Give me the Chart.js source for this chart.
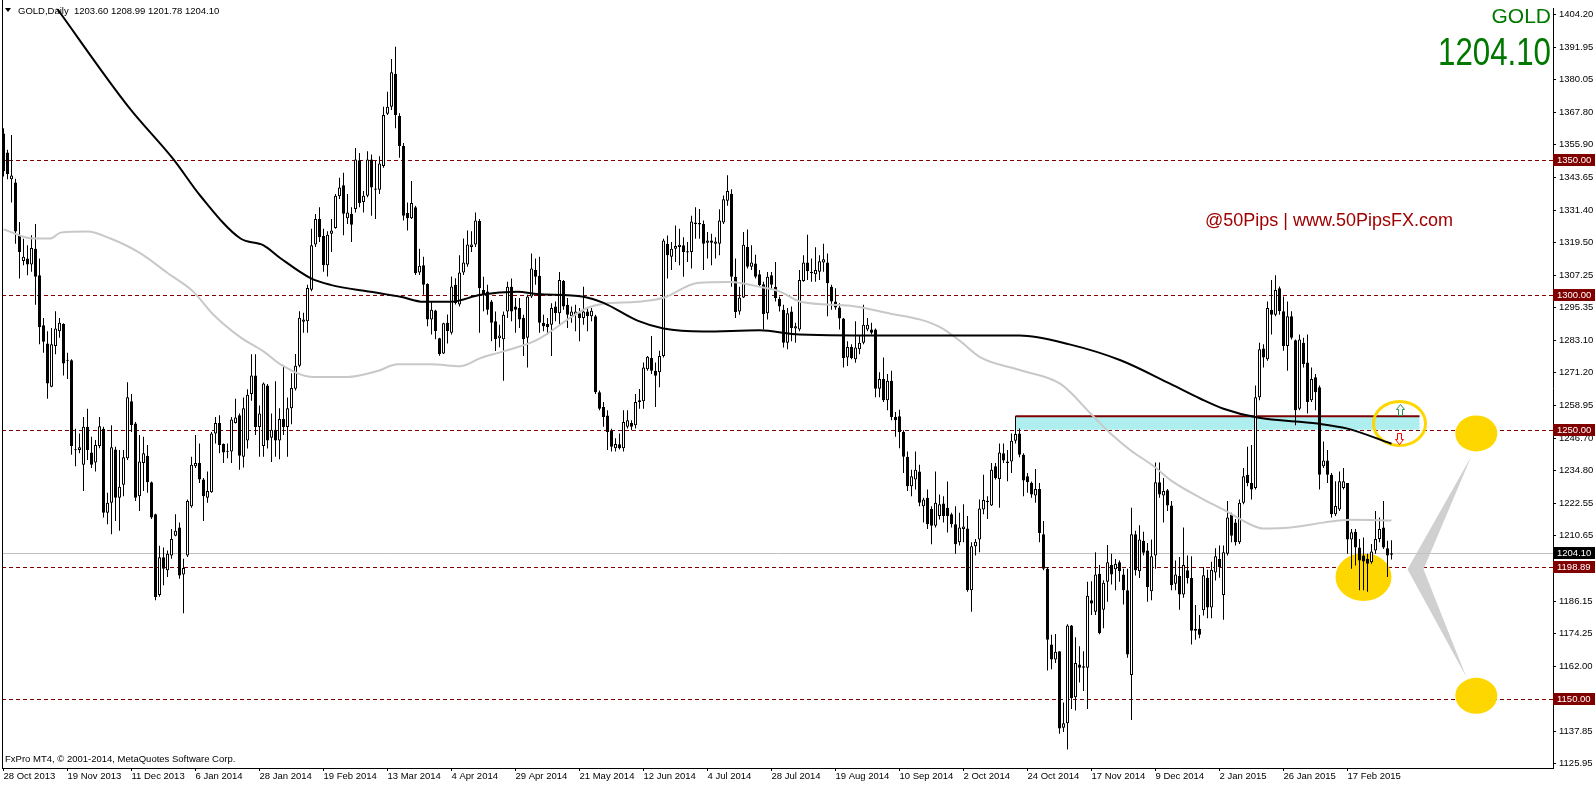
<!DOCTYPE html>
<html>
<head>
<meta charset="utf-8">
<script src="https://cdn.jsdelivr.net/npm/chart.js@4.4.1/dist/chart.umd.min.js"></script>
<style>
  html, body { margin: 0; padding: 0; background: #fff; overflow: hidden; }
  canvas { display: block; }
</style>
</head>
<body>
<canvas id="graficoGold" width="1596" height="786" style="width:1596px;height:786px"></canvas>
<script>
// GOLD daily candles, 28 Oct 2013 .. early Mar 2015 (bar index 0..347)
const opens = [
  1360, 1353, 1343, 1341.8, 1322.2, 1312.7, 1313.6, 1311.4, 1317.2, 1307.4,
  1288.8, 1282.0, 1266.0, 1281.1, 1286.6, 1289.3, 1275.8, 1275.8, 1242.6, 1242.5,
  1237.0, 1251.1, 1241.5, 1237.8, 1244.0, 1250.4, 1219.2, 1222.9, 1242.7, 1224.7,
  1229.6, 1239.4, 1260.6, 1252.3, 1225.3, 1237.6, 1240.3, 1230.5, 1218.6, 1188.6,
  1202.6, 1197.8, 1203.3, 1210.6, 1213.7, 1196.2, 1203.3, 1221.6, 1236.4, 1237.6,
  1231.5, 1224.7, 1226.8, 1248.6, 1252.5, 1244.7, 1241.9, 1241.9, 1252.5, 1255.4,
  1240, 1246, 1263.3, 1270.1, 1251, 1244, 1266.4, 1247, 1250, 1246,
  1254, 1251, 1258, 1265.2, 1273.8, 1290.1, 1290.3, 1302.0, 1318.8, 1328.3,
  1321.9, 1311.1, 1322.8, 1324.9, 1336.7, 1340.8, 1328.5, 1330.2, 1332.0, 1350.1,
  1334.6, 1336.9, 1350.4, 1339.6, 1339.1, 1347.9, 1367.3, 1369.9, 1382.2, 1366.5,
  1355.4, 1330.5, 1328.5, 1332.6, 1308.4, 1311.1, 1304.1, 1290.9, 1294.3, 1284.0,
  1278.3, 1289.7, 1286.0, 1303.8, 1296.5, 1308.4, 1311.4, 1317.9, 1318.8, 1327.5,
  1301.9, 1301.3, 1297.6, 1290.3, 1284.0, 1283.6, 1293.9, 1303.1, 1295.8, 1295.2,
  1291.5, 1284.2, 1299.5, 1309.3, 1307.2, 1289.7, 1289.3, 1289.0, 1295.8, 1293.3,
  1305.2, 1296.4, 1292.1, 1292.7, 1293.3, 1291.5, 1293.9, 1292.1, 1292.1, 1263.9,
  1258.4, 1255.3, 1249.8, 1243.1, 1244.6, 1243.1, 1251.1, 1252.5, 1251.7, 1260.3,
  1260.6, 1272.5, 1276.6, 1271.9, 1271.3, 1277.4, 1319.1, 1314.2, 1317.2, 1317.9,
  1318.5, 1316.3, 1316.0, 1327.0, 1326.2, 1326.4, 1319.4, 1320.3, 1319.1, 1319.1,
  1327.0, 1335.0, 1337.5, 1306.8, 1293.9, 1299.1, 1317.9, 1310.5, 1311.7, 1307.7,
  1304.0, 1293.3, 1307.4, 1303.1, 1298.6, 1294.6, 1282.3, 1293.9, 1287.6, 1287.2,
  1305.2, 1312.1, 1308.7, 1307.7, 1308.7, 1312.1, 1312.1, 1303.1, 1297.6, 1295.4,
  1291.3, 1276.8, 1280.7, 1276.2, 1279.9, 1282.3, 1287.2, 1287.2, 1287.2, 1265.2,
  1268.8, 1260.9, 1268.2, 1254.7, 1255.0, 1249.2, 1240.0, 1229.0, 1231.5, 1234.5,
  1221.6, 1224.7, 1220.6, 1214.3, 1218.0, 1222.6, 1221.0, 1218.6, 1214.9, 1208.2,
  1213.1, 1213.3, 1190.4, 1206.7, 1209.2, 1220.4, 1223.1, 1221.9, 1236.4, 1231.7,
  1241.3, 1238.2, 1238.2, 1245.9, 1248.6, 1240.7, 1232.7, 1230.2, 1225.6, 1228.0,
  1211.2, 1198.4, 1170.2, 1164.7, 1167.7, 1139.3, 1141.0, 1177.3, 1150.6, 1162.8,
  1161.6, 1161.6, 1186.7, 1182.4, 1196.5, 1183.1, 1193.5, 1199.8, 1198.2, 1200.8,
  1196.2, 1190.4, 1158.9, 1211.2, 1197.4, 1208.8, 1205.1, 1190.0, 1203.3, 1230.5,
  1225.6, 1227.5, 1221.9, 1192.8, 1195.7, 1188.8, 1197.8, 1194.9, 1176.1, 1176.1,
  1183, 1195, 1184, 1197, 1202, 1188.6, 1203.9, 1218.6, 1215.5, 1208.2,
  1222.9, 1233.3, 1230.2, 1228.4, 1262.1, 1280.2, 1276.2, 1294.6, 1292.7, 1302.5,
  1294.0, 1281.1, 1292.1, 1283.2, 1257.8, 1282.3, 1275.0, 1260.9, 1269.5, 1265.8,
  1236.4, 1238.6, 1233.3, 1218.6, 1220.4, 1228.4, 1230.2, 1209.2, 1212.1, 1206.3,
  1203.3, 1202.1, 1200.8, 1205.1, 1209.4, 1213.7, 1206.0, 1203.6
];
const highs = [
  1362, 1354, 1359.5, 1343.2, 1327.1, 1320.9, 1318.5, 1322.2, 1326.4, 1313.6,
  1291.5, 1286.6, 1287.8, 1294.0, 1291.5, 1289.5, 1278.6, 1276.2, 1250.4, 1248.6,
  1254.7, 1257.8, 1247.4, 1246.2, 1254.7, 1251.1, 1226.6, 1251.7, 1243.7, 1242.5,
  1242.5, 1267.6, 1263.3, 1252.9, 1248.0, 1247.4, 1244.3, 1230.8, 1218.8, 1206.9,
  1206.3, 1205.1, 1213.1, 1218.6, 1215.5, 1202.1, 1224.1, 1240.0, 1248.0, 1244.9,
  1232.1, 1234.5, 1249.2, 1254.7, 1255.4, 1244.9, 1244.9, 1254.7, 1261.5, 1256.0,
  1262, 1265, 1278.0, 1278.0, 1259, 1267.5, 1267.0, 1256, 1268, 1258,
  1274, 1262, 1271, 1278.1, 1294.0, 1293.4, 1303.8, 1324.6, 1330.1, 1332.6,
  1324.6, 1323.7, 1328.3, 1337.5, 1343.6, 1345.4, 1337.5, 1332.6, 1354.6, 1352.8,
  1338.7, 1353.4, 1352.2, 1349.8, 1351.6, 1369.9, 1375.5, 1387.7, 1392.2, 1367.5,
  1356.5, 1334.4, 1342.4, 1333.2, 1317.2, 1314.2, 1304.4, 1297.7, 1294.6, 1284.2,
  1289.7, 1292.8, 1306.9, 1306.3, 1314.8, 1321.0, 1324.0, 1323.7, 1330.7, 1328.3,
  1306.8, 1303.8, 1298.2, 1293.9, 1289.0, 1293.9, 1305.0, 1306.2, 1298.9, 1298.9,
  1292.7, 1300.1, 1315.4, 1313.6, 1314.2, 1292.7, 1291.5, 1297.0, 1297.6, 1308.6,
  1305.6, 1298.9, 1295.8, 1296.4, 1295.2, 1303.1, 1295.2, 1295.2, 1292.7, 1264.6,
  1260.3, 1257.2, 1250.4, 1246.8, 1248.6, 1257.2, 1257.2, 1253.5, 1263.3, 1265.1,
  1275.0, 1277.4, 1284.8, 1275.0, 1279.3, 1320.9, 1322.1, 1319.7, 1325.8, 1324.6,
  1321.5, 1319.7, 1329.5, 1332.6, 1332.0, 1327.7, 1323.4, 1322.8, 1321.5, 1331.9,
  1337.0, 1344.5, 1339.3, 1313.6, 1303.1, 1323.4, 1324.4, 1318.5, 1315.0, 1309.3,
  1305.0, 1308.6, 1308.6, 1312.3, 1299.5, 1296.4, 1295.2, 1295.8, 1289.7, 1309.3,
  1314.8, 1322.4, 1313.6, 1317.8, 1314.8, 1319.1, 1315.4, 1303.8, 1302.5, 1297.0,
  1291.5, 1282.9, 1281.7, 1290.3, 1284.8, 1296.4, 1291.5, 1289.7, 1287.6, 1271.3,
  1276.8, 1270.7, 1271.9, 1256.6, 1257.4, 1249.8, 1241.9, 1235.1, 1241.9, 1237.0,
  1224.7, 1227.8, 1221.6, 1234.5, 1225.9, 1225.3, 1230.8, 1219.2, 1221.6, 1219.2,
  1222.3, 1218.0, 1208.2, 1209.4, 1224.1, 1233.3, 1225.3, 1237.6, 1237.6, 1244.9,
  1244.9, 1242.5, 1248.6, 1255.0, 1250.5, 1241.3, 1233.9, 1230.8, 1235.4, 1230.2,
  1216.1, 1199.0, 1173.9, 1174.1, 1167.7, 1148.7, 1177.8, 1177.5, 1172.9, 1169.6,
  1167.7, 1193.5, 1193.7, 1204.5, 1199.8, 1194.1, 1207.2, 1203.9, 1202.0, 1201.4,
  1198.4, 1198.4, 1221.0, 1212.5, 1214.5, 1212.1, 1207.9, 1209.2, 1237.8, 1237.8,
  1232.1, 1228.0, 1223.5, 1201.4, 1202.7, 1213.7, 1203.3, 1203.0, 1184.9, 1181.2,
  1199.0, 1198, 1201, 1206, 1207, 1207, 1223.5, 1219.2, 1216.8, 1224.1,
  1235.8, 1243.7, 1244.3, 1266.4, 1282.3, 1281.7, 1297.6, 1305.6, 1307.4, 1303.2,
  1299.5, 1297.6, 1294.0, 1283.5, 1285.4, 1284.2, 1285.4, 1273.1, 1270.7, 1266.4,
  1245.6, 1242.5, 1233.9, 1230.9, 1234.5, 1235.8, 1230.2, 1213.1, 1213.1, 1209.4,
  1210.0, 1203.9, 1207.6, 1219.8, 1217.4, 1223.5, 1208.8, 1208.99
];
const lows = [
  1344, 1343, 1334.4, 1319.1, 1306.2, 1311.1, 1307.4, 1308.7, 1296.4, 1281.7,
  1278.6, 1261.5, 1265.8, 1278.0, 1284.2, 1270.1, 1268.8, 1240.7, 1236.4, 1241.3,
  1227.2, 1238.8, 1235.8, 1234.5, 1243.1, 1217.4, 1214.9, 1211.2, 1216.1, 1212.5,
  1225.3, 1238.8, 1249.2, 1223.5, 1219.8, 1227.2, 1226.6, 1216.8, 1186.7, 1188.0,
  1192.2, 1195.3, 1202.1, 1210.4, 1194.7, 1181.8, 1202.7, 1221.0, 1235.8, 1230.2,
  1216.1, 1222.9, 1226.6, 1244.9, 1241.3, 1237.6, 1239.4, 1237.6, 1252.3, 1235.1,
  1236, 1243, 1260.8, 1248, 1240, 1240, 1243, 1238, 1240, 1239,
  1248, 1240, 1252, 1264.6, 1273.2, 1286.0, 1286.0, 1301.4, 1317.9, 1319.7,
  1308.7, 1306.9, 1316.0, 1324.6, 1335.7, 1322.2, 1326.4, 1319.7, 1330.7, 1332.6,
  1330.7, 1336.3, 1329.5, 1328.3, 1337.5, 1347.3, 1366.9, 1368.7, 1362.0, 1351.0,
  1327.7, 1324.0, 1328.3, 1307.5, 1307.5, 1300.1, 1288.4, 1285.4, 1283.6, 1277.5,
  1278.1, 1282.0, 1285.4, 1296.5, 1295.8, 1307.5, 1310.5, 1316.0, 1317.9, 1286.0,
  1294.0, 1292.7, 1282.9, 1279.2, 1280.6, 1268.2, 1291.5, 1290.3, 1286.0, 1287.8,
  1277.4, 1273.1, 1298.9, 1303.8, 1286.0, 1286.6, 1285.4, 1277.4, 1290.3, 1289.0,
  1294.6, 1287.8, 1289.7, 1286.6, 1282.9, 1289.0, 1286.6, 1290.3, 1263.3, 1257.2,
  1251.1, 1242.5, 1241.9, 1241.9, 1242.7, 1241.9, 1250.5, 1249.8, 1250.5, 1257.8,
  1257.8, 1271.9, 1270.7, 1258.4, 1265.8, 1276.8, 1306.2, 1309.3, 1312.3, 1311.1,
  1306.8, 1312.3, 1309.9, 1320.9, 1320.9, 1309.3, 1313.6, 1311.1, 1313.6, 1314.8,
  1326.4, 1333.2, 1303.1, 1291.5, 1292.7, 1298.9, 1309.9, 1309.3, 1306.2, 1303.1,
  1287.2, 1290.9, 1301.9, 1297.6, 1293.9, 1280.5, 1279.9, 1282.9, 1282.3, 1286.6,
  1305.0, 1305.6, 1305.0, 1305.0, 1305.6, 1308.7, 1292.1, 1294.6, 1294.6, 1287.2,
  1273.1, 1273.7, 1276.2, 1274.9, 1278.0, 1281.7, 1286.6, 1285.4, 1262.1, 1262.1,
  1260.3, 1257.2, 1253.5, 1247.4, 1243.1, 1233.9, 1227.2, 1225.3, 1227.8, 1221.6,
  1215.5, 1213.1, 1207.5, 1213.7, 1216.7, 1215.5, 1211.8, 1213.7, 1203.9, 1207.0,
  1208.2, 1189.8, 1182.4, 1203.3, 1204.5, 1218.6, 1216.8, 1221.7, 1231.5, 1221.0,
  1237.6, 1230.9, 1233.9, 1244.9, 1239.8, 1225.3, 1226.6, 1224.7, 1222.9, 1208.2,
  1197.8, 1160.6, 1161.0, 1163.4, 1137.1, 1137.7, 1131.2, 1146.3, 1145.7, 1156.1,
  1153.0, 1146.3, 1181.2, 1181.2, 1174.0, 1176.3, 1186.1, 1192.5, 1190.4, 1193.5,
  1185.1, 1165.3, 1142.2, 1195.9, 1194.9, 1203.3, 1186.1, 1186.7, 1198.4, 1224.7,
  1215.5, 1219.8, 1190.4, 1190.4, 1183.1, 1187.6, 1192.9, 1170.2, 1172.0, 1172.6,
  1181, 1180, 1180, 1194, 1195, 1179.4, 1203.3, 1208.2, 1207.0, 1207.6,
  1222.3, 1229.0, 1224.1, 1227.8, 1260.9, 1273.1, 1275.6, 1285.4, 1292.1, 1292.7,
  1279.3, 1271.9, 1283.5, 1251.7, 1257.2, 1273.1, 1256.0, 1260.3, 1257.2, 1227.8,
  1235.8, 1230.2, 1217.4, 1218.0, 1219.8, 1227.8, 1203.9, 1198.4, 1199.6, 1190.4,
  1190.4, 1189.8, 1200.2, 1203.9, 1208.2, 1205.7, 1195.3, 1201.78
];
const closes = [
  1346, 1345, 1344.4, 1323.6, 1316.0, 1314.2, 1311.4, 1317.5, 1306.8, 1288.1,
  1282.7, 1267.2, 1281.7, 1287.6, 1289.7, 1274.6, 1275.6, 1244.0, 1242.4, 1243.5,
  1251.1, 1242.5, 1237.0, 1244.3, 1251.3, 1219.2, 1222.9, 1243.5, 1224.7, 1228.8,
  1239.8, 1262.1, 1251.7, 1224.7, 1238.2, 1241.3, 1230.5, 1217.4, 1187.9, 1202.6,
  1198.4, 1203.9, 1209.4, 1212.5, 1195.9, 1198.6, 1223.5, 1237.0, 1237.6, 1231.5,
  1225.3, 1227.2, 1248.6, 1252.5, 1244.3, 1241.5, 1241.8, 1253.8, 1254.5, 1240.3,
  1258, 1263, 1270.1, 1251, 1256, 1267.2, 1246, 1250, 1246, 1254,
  1251, 1258, 1265.5, 1273.8, 1291.6, 1290.9, 1302.6, 1318.5, 1328.3, 1321.5,
  1311.1, 1322.4, 1324.0, 1336.9, 1340.0, 1330.2, 1330.7, 1326.1, 1350.4, 1334.2,
  1336.9, 1350.4, 1340.0, 1339.1, 1348.9, 1366.9, 1369.9, 1382.8, 1366.9, 1355.4,
  1329.5, 1328.5, 1334.2, 1308.1, 1310.9, 1303.8, 1290.9, 1294.6, 1286.7, 1278.1,
  1289.5, 1286.7, 1303.2, 1297.1, 1308.4, 1312.1, 1318.8, 1318.8, 1327.7, 1302.5,
  1300.1, 1294.6, 1289.7, 1283.6, 1285.0, 1292.7, 1303.1, 1293.9, 1294.6, 1290.9,
  1283.6, 1299.5, 1309.9, 1306.8, 1289.7, 1288.4, 1288.1, 1295.2, 1293.3, 1305.6,
  1295.8, 1292.7, 1293.9, 1293.9, 1291.5, 1293.9, 1292.1, 1294.2, 1263.9, 1257.8,
  1254.7, 1249.2, 1243.7, 1244.7, 1243.1, 1252.9, 1253.5, 1251.1, 1260.3, 1260.9,
  1273.1, 1277.1, 1271.9, 1270.0, 1277.4, 1320.3, 1314.8, 1317.2, 1318.2, 1318.7,
  1316.0, 1315.8, 1327.3, 1326.4, 1326.8, 1319.1, 1320.3, 1319.4, 1319.9, 1327.7,
  1335.6, 1338.7, 1306.8, 1293.7, 1299.1, 1318.7, 1310.5, 1312.1, 1306.8, 1303.7,
  1293.0, 1306.8, 1303.8, 1298.9, 1295.8, 1282.3, 1293.3, 1287.8, 1288.4, 1305.6,
  1312.1, 1308.9, 1308.1, 1309.3, 1312.6, 1313.3, 1304.4, 1297.6, 1295.4, 1291.3,
  1276.6, 1280.7, 1276.6, 1280.5, 1282.3, 1289.0, 1289.0, 1286.0, 1265.2, 1268.8,
  1260.9, 1268.2, 1254.7, 1253.5, 1249.2, 1240.0, 1229.0, 1232.7, 1235.1, 1222.9,
  1224.1, 1214.9, 1214.3, 1222.9, 1222.3, 1218.0, 1218.0, 1214.9, 1207.5, 1213.7,
  1214.1, 1190.4, 1206.7, 1208.4, 1220.7, 1223.9, 1223.6, 1235.1, 1232.1, 1241.5,
  1238.6, 1237.6, 1245.9, 1248.4, 1240.7, 1231.1, 1230.5, 1225.9, 1228.0, 1211.6,
  1198.4, 1172.0, 1164.7, 1167.5, 1139.0, 1141.0, 1177.3, 1150.3, 1163.4, 1161.6,
  1162.2, 1188.3, 1185.5, 1196.2, 1174.5, 1193.2, 1200.8, 1196.2, 1200.2, 1197.4,
  1190.4, 1166.5, 1211.2, 1197.8, 1209.2, 1204.3, 1191.6, 1203.0, 1230.5, 1225.9,
  1227.2, 1221.9, 1192.2, 1196.2, 1188.8, 1199.8, 1194.9, 1175.3, 1175.3, 1173.9,
  1196.0, 1184, 1198, 1203, 1199, 1204.5, 1217.4, 1210.6, 1208.2, 1222.9,
  1232.7, 1230.2, 1227.8, 1262.1, 1279.9, 1276.8, 1295.2, 1292.7, 1301.9, 1294.0,
  1281.1, 1292.1, 1284.2, 1257.2, 1283.5, 1274.4, 1260.3, 1268.8, 1263.9, 1233.3,
  1238.6, 1233.3, 1218.6, 1221.7, 1230.9, 1230.9, 1209.2, 1211.9, 1206.3, 1201.4,
  1201.1, 1200.2, 1204.8, 1209.4, 1213.1, 1206.3, 1203.3, 1204.10
];

// moving averages (bar index -> price)
const blackMaBars = [0, 13.25, 31.25, 42.5, 49.25, 59.25, 65, 69.25, 76.75, 81.75, 91.75, 99.25, 105, 111.75,
  119.25, 128.5, 133.5, 145, 150, 158.5, 165, 175, 189, 199, 224, 244, 254, 266.5, 279.25, 291.75,
  299.25, 305, 313.5, 328.5, 336, 347];
const blackMaValues = [1434, 1406.7, 1369.9, 1350.4, 1336.8, 1321.0, 1318.5, 1313.7, 1306.3, 1303.8, 1301.2, 1299.4, 1297.5, 1297.5,
  1300.1, 1301.2, 1300.4, 1299.4, 1297.1, 1290.5, 1287.6, 1286.5, 1286.9, 1285.4, 1285.0, 1285.0, 1285.0, 1281.7, 1275.8, 1267.0,
  1261.5, 1257.8, 1254.5, 1252.3, 1250.4, 1244.8];
const greyMaBars = [0, 7.5, 11.75, 14.25, 21, 26.75, 34.25, 41, 47.5, 52.5, 59.25, 65, 69.25, 77.5, 86, 93.5, 98.5,
  106.75, 114.25, 119.25, 125, 133.5, 141.75, 146, 150, 158.5, 165, 173.5, 181.75, 189.25, 194.25, 199.25,
  211.75, 221.75, 229.25, 234.25, 239.25, 244.25, 254.25, 264.25, 272.5, 276.75, 281.75, 287.5, 291.75,
  299.25, 305, 311.75, 315, 321.75, 330, 336.75, 347];
const greyMaValues = [1324.4, 1321.0, 1321.0, 1323.2, 1323.6, 1321.0, 1315.5, 1308.2, 1301.2, 1292.7, 1284.3, 1279.1, 1274.3, 1269.6, 1269.6, 1271.8, 1274.3,
  1274.3, 1273.6, 1276.6, 1279.1, 1283.5, 1291.6, 1295.3, 1296.8, 1297.5, 1299.0, 1304.5, 1304.9, 1303.0, 1301.2, 1297.5,
  1296.0, 1293.1, 1290.9, 1288.0, 1282.8, 1276.9, 1272.1, 1267.0, 1254.9, 1248.6, 1242.4, 1236.5, 1231.3,
  1224.7, 1220.3, 1214.8, 1213.3, 1213.7, 1215.5, 1216.6, 1216.3];

// axis labels
const tickBars = [0, 16, 32, 48, 64, 80, 96, 112, 128, 144, 160, 176, 192, 208, 224, 240, 256, 272, 288, 304, 320, 336];
const tickDates = ['28 Oct 2013', '19 Nov 2013', '11 Dec 2013', '6 Jan 2014', '28 Jan 2014', '19 Feb 2014', '13 Mar 2014',
  '4 Apr 2014', '29 Apr 2014', '21 May 2014', '12 Jun 2014', '4 Jul 2014', '28 Jul 2014', '19 Aug 2014', '10 Sep 2014',
  '2 Oct 2014', '24 Oct 2014', '17 Nov 2014', '9 Dec 2014', '2 Jan 2015', '26 Jan 2015', '17 Feb 2015'];
const priceTicks = [1404.20, 1391.95, 1380.05, 1367.80, 1355.90, 1343.65, 1331.40, 1319.50, 1307.25, 1295.35, 1283.10,
  1271.20, 1258.95, 1246.70, 1234.80, 1222.55, 1210.65, 1198.40, 1186.15, 1174.25, 1162.00, 1149.90, 1137.85, 1125.95];

// drawn objects
const levels = [1350, 1300, 1250, 1198.89, 1150];
const lastPrice = 1204.10;
const zoneBars = [253, 354];
const zonePrices = [1250, 1255];
const blobBars = [340, 368.2, 368.2];
const blobPrices = [1195.3, 1248.6, 1151.2];
const blobRx = [28, 21, 21];
const blobRy = [24, 18, 18];
const ringBar = 349, ringPrice = 1252.3;
const chevronBars = [367, 351, 365.7, 355];
const chevronPrices = [1240.2, 1198.2, 1158.2, 1198.2];
const arrowBars = [349, 348.8];
const arrowPrices = [1257.4, 1247.1];

const FONT = '"Liberation Sans", Arial, sans-serif';
Chart.defaults.font.family = FONT;
Chart.defaults.color = '#000';

const idx = opens.map((o, i) => i);

function ellipse(ctx, cx, cy, rx, ry) {
  ctx.beginPath();
  ctx.ellipse(cx, cy, rx, ry, 0, 0, Math.PI * 2);
}

function arrow(ctx, cx, cy, dir) {
  // small hollow arrow, dir -1 = up, 1 = down
  const pts = [[0, -6], [-4, -1], [-2, -1], [-2, 5], [2, 5], [2, -1], [4, -1]];
  ctx.beginPath();
  pts.forEach(([dx, dy], k) => {
    const X = cx + dx, Y = cy + dy * (-dir);
    if (k === 0) ctx.moveTo(X, Y); else ctx.lineTo(X, Y);
  });
  ctx.closePath();
  ctx.fill();
  ctx.stroke();
}

const mtObjects = {
  id: 'mtObjects',
  beforeDatasetsDraw(chart) {
    const { ctx, chartArea: a, scales: { x, y } } = chart;
    ctx.save();
    ctx.beginPath();
    ctx.rect(a.left, a.top, a.right - a.left, a.bottom - a.top);
    ctx.clip();

    // support zone
    const zx0 = x.getPixelForValue(zoneBars[0]), zx1 = x.getPixelForValue(zoneBars[1]);
    const zTop = y.getPixelForValue(zonePrices[1]), zBot = y.getPixelForValue(zonePrices[0]);
    ctx.fillStyle = '#afeeee';
    ctx.fillRect(zx0, zTop, zx1 - zx0, zBot - zTop);

    // dashed levels
    ctx.strokeStyle = '#800000';
    ctx.lineWidth = 1;
    ctx.setLineDash([4, 3]);
    levels.forEach(v => {
      const yy = Math.round(y.getPixelForValue(v)) + 0.5;
      ctx.beginPath();
      ctx.moveTo(a.left, yy);
      ctx.lineTo(a.right, yy);
      ctx.stroke();
    });
    ctx.setLineDash([]);

    // zone top border
    ctx.lineWidth = 2;
    ctx.beginPath();
    ctx.moveTo(zx0, zTop);
    ctx.lineTo(zx1, zTop);
    ctx.stroke();

    // yellow blobs
    ctx.fillStyle = '#ffd700';
    blobBars.forEach((b, k) => {
      ellipse(ctx, x.getPixelForValue(b), y.getPixelForValue(blobPrices[k]), blobRx[k], blobRy[k]);
      ctx.fill();
    });

    // grey chevron
    ctx.fillStyle = '#d0d0d0';
    ctx.beginPath();
    chevronBars.forEach((b, k) => {
      const X = x.getPixelForValue(b), Y = y.getPixelForValue(chevronPrices[k]);
      if (k === 0) ctx.moveTo(X, Y); else ctx.lineTo(X, Y);
    });
    ctx.closePath();
    ctx.fill();

    // ring
    ctx.strokeStyle = '#ffd700';
    ctx.lineWidth = 3;
    ellipse(ctx, x.getPixelForValue(ringBar), y.getPixelForValue(ringPrice), 26, 22);
    ctx.stroke();

    // bid line
    const by = Math.round(y.getPixelForValue(lastPrice)) + 0.5;
    ctx.strokeStyle = '#c0c0c0';
    ctx.lineWidth = 1;
    ctx.beginPath();
    ctx.moveTo(a.left, by);
    ctx.lineTo(a.right, by);
    ctx.stroke();
    ctx.restore();
  },
  afterDatasetsDraw(chart) {
    const { ctx, scales: { x, y } } = chart;
    ctx.save();
    ctx.lineWidth = 1;
    ctx.fillStyle = '#ffffff';
    ctx.strokeStyle = '#2e8b57';
    arrow(ctx, Math.round(x.getPixelForValue(arrowBars[0])) + 0.5, Math.round(y.getPixelForValue(arrowPrices[0])) + 0.5, -1);
    ctx.strokeStyle = '#ff0000';
    arrow(ctx, Math.round(x.getPixelForValue(arrowBars[1])) + 0.5, Math.round(y.getPixelForValue(arrowPrices[1])) + 0.5, 1);
    ctx.restore();
  },
  afterDraw(chart) {
    const { ctx, chartArea: a, scales: { y } } = chart;
    ctx.save();

    // left frame line
    ctx.strokeStyle = '#000';
    ctx.lineWidth = 1;
    ctx.beginPath();
    ctx.moveTo(a.left + 0.5, 0);
    ctx.lineTo(a.left + 0.5, a.bottom);
    ctx.stroke();

    // price boxes on the axis
    ctx.font = '9.5px ' + FONT;
    ctx.textBaseline = 'middle';
    const box = (v, bg) => {
      const yy = Math.round(y.getPixelForValue(v));
      ctx.fillStyle = bg;
      ctx.fillRect(a.right, yy - 6, 42, 12);
      ctx.fillStyle = '#fff';
      ctx.textAlign = 'left';
      ctx.fillText(v.toFixed(2), a.right + 4, yy + 0.5);
    };
    levels.forEach(v => box(v, '#800000'));
    box(lastPrice, '#000');

    // header
    ctx.fillStyle = '#000';
    ctx.beginPath();
    ctx.moveTo(5, 8); ctx.lineTo(11, 8); ctx.lineTo(8, 12); ctx.closePath();
    ctx.fill();
    ctx.textAlign = 'left';
    ctx.fillText('GOLD,Daily  ' + [opens[347], highs[347], lows[347], closes[347]].map(v => v.toFixed(2)).join(' '), 18, 11);

    // copyright
    ctx.fillText('FxPro MT4, \u00a9 2001-2014, MetaQuotes Software Corp.', 5, 759);

    // symbol and price
    ctx.fillStyle = '#007800';
    ctx.textBaseline = 'alphabetic';
    ctx.textAlign = 'right';
    ctx.font = '21px ' + FONT;
    ctx.fillText('GOLD', 1551, 23);
    ctx.font = '39px "Liberation Sans Narrow", ' + FONT;
    const t = lastPrice.toFixed(2);
    const w = ctx.measureText(t).width;
    ctx.save();
    ctx.translate(1551, 65);
    ctx.scale(113 / w, 1);
    ctx.fillText(t, 0, 0);
    ctx.restore();

    // watermark
    ctx.fillStyle = '#a00000';
    ctx.textAlign = 'left';
    ctx.font = '18px ' + FONT;
    ctx.fillText('@50Pips | www.50PipsFX.com', 1205, 226);
    ctx.restore();
  }
};

new Chart(document.getElementById('graficoGold'), {
  type: 'bar',
  data: {
    datasets: [
      {
        type: 'line',
        label: 'MA black',
        data: blackMaBars.map((b, k) => ({ x: b, y: blackMaValues[k] })),
        borderColor: '#000',
        borderWidth: 2,
        pointRadius: 0,
        cubicInterpolationMode: 'monotone',
        order: -1
      },
      {
        type: 'line',
        label: 'MA grey',
        data: greyMaBars.map((b, k) => ({ x: b, y: greyMaValues[k] })),
        borderColor: '#c8c8c8',
        borderWidth: 2,
        pointRadius: 0,
        cubicInterpolationMode: 'monotone',
        order: 0
      },
      {
        label: 'Body',
        data: idx.map(i => ({ x: i, y: [opens[i], closes[i]] })),
        backgroundColor: idx.map(i => closes[i] >= opens[i] ? '#fff' : '#000'),
        borderColor: '#000',
        borderWidth: 1,
        borderSkipped: false,
        barThickness: 3,
        minBarLength: 1,
        grouped: false,
        inflateAmount: 0,
        order: 1
      },
      {
        label: 'Wick',
        data: idx.map(i => ({ x: i, y: [lows[i], highs[i]] })),
        backgroundColor: '#000',
        borderWidth: 0,
        barThickness: 1,
        grouped: false,
        inflateAmount: 0,
        order: 2
      }
    ]
  },
  options: {
    responsive: false,
    animation: false,
    events: [],
    layout: { padding: { left: 2, top: 1, right: 0, bottom: 0 } },
    plugins: { legend: { display: false }, tooltip: { enabled: false } },
    scales: {
      x: {
        type: 'linear',
        position: 'bottom',
        min: -0.375,
        max: 387.375,
        offset: false,
        grid: { drawOnChartArea: false, offset: false, tickLength: 3, color: '#000' },
        border: { color: '#000' },
        ticks: {
          align: 'start',
          padding: 0,
          maxRotation: 0,
          autoSkip: false,
          font: { size: 9.5 },
          callback: v => tickDates[tickBars.indexOf(v)] || ''
        },
        afterBuildTicks: s => { s.ticks = tickBars.map(v => ({ value: v })); },
        afterFit: s => { s.height = 18; }
      },
      y: {
        type: 'linear',
        position: 'right',
        min: 1124.37,
        max: 1406.36,
        grid: { drawOnChartArea: false, tickLength: 3, color: '#000' },
        border: { color: '#000' },
        ticks: {
          padding: 3,
          autoSkip: false,
          font: { size: 9.5 },
          callback: v => Number(v).toFixed(2)
        },
        afterBuildTicks: s => { s.ticks = priceTicks.map(v => ({ value: v })); },
        afterFit: s => { s.width = 43; }
      }
    }
  },
  plugins: [mtObjects]
});
</script>
</body>
</html>
